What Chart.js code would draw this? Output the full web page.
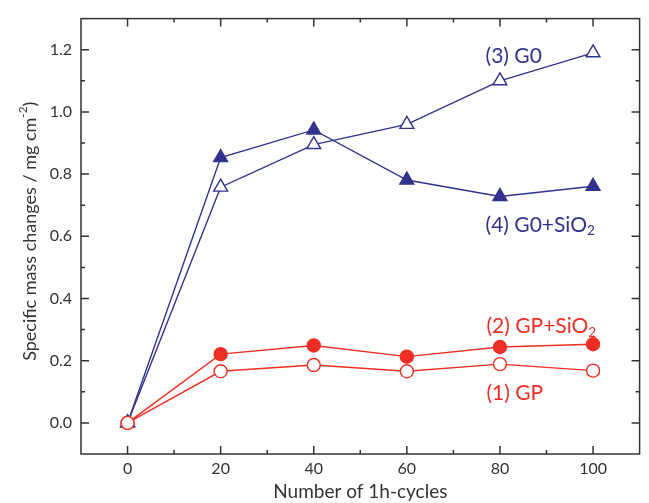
<!DOCTYPE html>
<html>
<head>
<meta charset="utf-8">
<script src="https://cdn.jsdelivr.net/npm/chart.js@4"></script>
<style>
  html, body { margin: 0; padding: 0; background: #fff; }
  #wrap { width: 649px; height: 503px; }
</style>
</head>
<body>
<div id="wrap"><canvas id="chart" width="649" height="503"></canvas></div>
<script>
// ─── Data ─────────────────────────────────────────────────
const cycles      = [0, 20, 40, 60, 80, 100];
const gp          = [0, 0.166, 0.186, 0.166, 0.189, 0.168];
const gpSiO2      = [0, 0.221, 0.249, 0.213, 0.244, 0.253];
const g0          = [0, 0.758, 0.895, 0.960, 1.100, 1.190];
const g0SiO2      = [0, 0.853, 0.942, 0.781, 0.728, 0.761];
const xTicks      = [0, 20, 40, 60, 80, 100];
const xMinor      = [10, 30, 50, 70, 90];
const yTicks      = [0, 0.2, 0.4, 0.6, 0.8, 1.0, 1.2];
const yMinor      = [0.1, 0.3, 0.5, 0.7, 0.9, 1.1];

// in-plot labels: [data x, data y, text parts]
const labels = [
    { x: 76.9, y: 1.179, color: 'blue', parts: [['(3) G0', 0]] },
    { x: 76.9, y: 0.636, color: 'blue', parts: [['(4) G0+SiO', 0], ['2', -1]] },
    { x: 77.1, y: 0.310, color: 'red',  parts: [['(2) GP+SiO', 0], ['2', -1]] },
    { x: 77.1, y: 0.096, color: 'red',  parts: [['(1) GP', 0]] },
];

const BLUE = '#32328f';
const RED  = '#ee2e24';
const INK  = '#333333';
const FONT = 'Lato, "Open Sans", sans-serif';

const toXY = vals => vals.map((v, i) => ({ x: cycles[i], y: v }));

// ─── Helpers ──────────────────────────────────────────────
// draws text with optional sub (-1) / super (+1) script parts
function richText(ctx, parts, x, y, size) {
    let cx = x;
    parts.forEach(([t, s]) => {
        const fs = s ? size * 0.65 : size;
        ctx.font = `${fs}px ${FONT}`;
        const dy = s === -1 ? size * 0.28 : s === 1 ? -size * 0.38 : 0;
        ctx.fillText(t, cx, y + dy);
        cx += ctx.measureText(t).width;
    });
    return cx - x;
}
function richWidth(ctx, parts, size) {
    let w = 0;
    parts.forEach(([t, s]) => {
        ctx.font = `${s ? size * 0.65 : size}px ${FONT}`;
        w += ctx.measureText(t).width;
    });
    return w;
}

// ─── Frame, inner ticks, labels ───────────────────────────
const framePlugin = {
    id: 'frame',
    beforeDatasetsDraw(chart) {
        const { ctx, chartArea: a, scales: { x, y } } = chart;
        ctx.save();
        ctx.strokeStyle = INK;
        ctx.lineWidth = 1.5;
        ctx.strokeRect(a.left, a.top, a.right - a.left, a.bottom - a.top);
        ctx.beginPath();
        const xt = (vals, len) => vals.forEach(v => {
            const px = x.getPixelForValue(v);
            ctx.moveTo(px, a.bottom); ctx.lineTo(px, a.bottom - len);
            ctx.moveTo(px, a.top);    ctx.lineTo(px, a.top + len);
        });
        const yt = (vals, len) => vals.forEach(v => {
            const py = y.getPixelForValue(v);
            ctx.moveTo(a.left, py);  ctx.lineTo(a.left + len, py);
            ctx.moveTo(a.right, py); ctx.lineTo(a.right - len, py);
        });
        xt(xTicks, 8); xt(xMinor, 4);
        yt(yTicks, 8); yt(yMinor, 4);
        ctx.stroke();
        ctx.restore();
    },
    afterDatasetsDraw(chart) {
        const { ctx, chartArea: a, scales: { x, y } } = chart;
        ctx.save();
        ctx.textBaseline = 'middle';
        ctx.textAlign = 'left';
        labels.forEach(l => {
            ctx.fillStyle = l.color === 'blue' ? BLUE : RED;
            richText(ctx, l.parts, x.getPixelForValue(l.x), y.getPixelForValue(l.y), 21);
        });

        // y axis title with superscript
        const parts = [['Specific mass changes / mg cm', 0], ['-2', 1], [')', 0]];
        const size = 18;
        const w = richWidth(ctx, parts, size);
        ctx.translate(30, (a.top + a.bottom) / 2 - 5);
        ctx.rotate(-Math.PI / 2);
        ctx.fillStyle = INK;
        richText(ctx, parts, -w / 2, 0, size);
        ctx.restore();
    }
};

// ─── Chart ────────────────────────────────────────────────
const ds = (label, data, color, style, filled, r) => ({
    label,
    data: toXY(data),
    borderColor: color,
    borderWidth: 1.4,
    pointStyle: style,
    pointRadius: r,
    pointBorderWidth: 1.4,
    pointBackgroundColor: filled ? color : '#ffffff',
    pointBorderColor: color,
    tension: 0,
});

new Chart(document.getElementById('chart'), {
    type: 'line',
    data: {
        datasets: [
            ds('(1) GP',      gp,     RED,  'circle',   false, 6.5),
            ds('(2) GP+SiO2', gpSiO2, RED,  'circle',   true,  6.5),
            ds('(3) G0',      g0,     BLUE, 'triangle', false, 8),
            ds('(4) G0+SiO2', g0SiO2, BLUE, 'triangle', true,  8),
        ]
    },
    options: {
        responsive: false,
        animation: false,
        devicePixelRatio: 1,
        layout: { padding: { top: 12, right: 6, left: 0, bottom: 0 } },
        plugins: { legend: { display: false }, tooltip: { enabled: false } },
        scales: {
            x: {
                type: 'linear',
                min: -10, max: 110,
                afterBuildTicks: s => { s.ticks = xTicks.map(v => ({ value: v })); },
                afterFit: s => { s.height = 49; },
                grid: { display: false, drawTicks: false },
                border: { display: false },
                ticks: { color: INK, font: { family: FONT, size: 16 }, padding: 5, maxRotation: 0 },
                title: {
                    display: true, text: 'Number of 1h-cycles', color: INK,
                    font: { family: FONT, size: 19 }, padding: { top: 0, bottom: 0 }
                }
            },
            y: {
                type: 'linear',
                min: -0.1, max: 1.3,
                afterBuildTicks: s => { s.ticks = yTicks.map(v => ({ value: v })); },
                afterFit: s => { s.width = 81; },
                grid: { display: false, drawTicks: false },
                border: { display: false },
                ticks: {
                    color: INK, font: { family: FONT, size: 16 }, padding: 9,
                    callback: v => Number(v).toFixed(1)
                }
            }
        }
    },
    plugins: [framePlugin]
});
</script>
</body>
</html>
